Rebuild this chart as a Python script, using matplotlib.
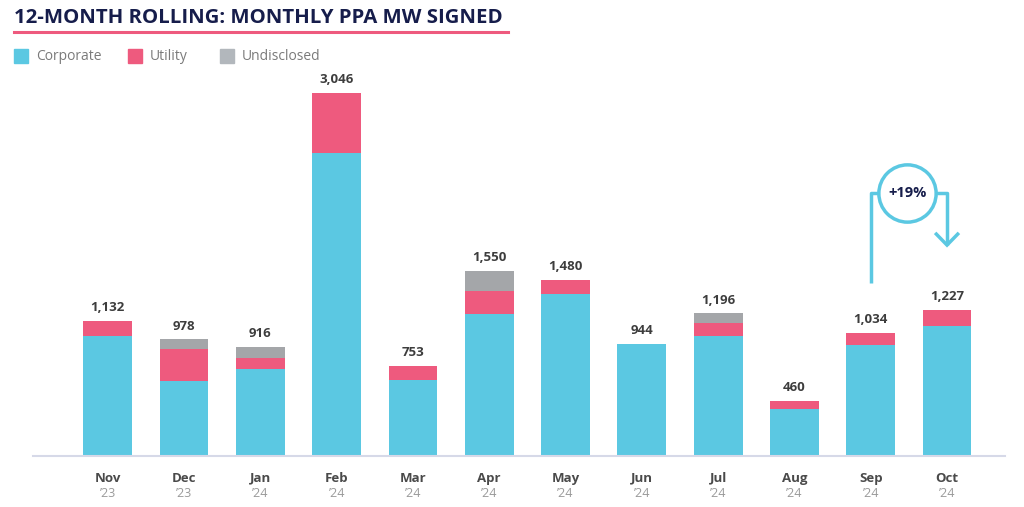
import matplotlib.pyplot as plt
from matplotlib.patches import Rectangle
import numpy as np

plt.rcParams['font.family'] = ['Open Sans', 'DejaVu Sans']

months = ["Nov", "Dec", "Jan", "Feb", "Mar", "Apr", "May", "Jun", "Jul", "Aug", "Sep", "Oct"]
years = ["’23", "’23", "’24", "’24", "’24", "’24", "’24", "’24", "’24", "’24", "’24", "’24"]
totals = [1132, 978, 916, 3046, 753, 1550, 1480, 944, 1196, 460, 1034, 1227]
utility = [128, 263, 87, 503, 112, 195, 120, 0, 108, 67, 99, 139]
undisclosed = [0, 83, 95, 0, 0, 165, 0, 0, 79, 0, 0, 0]
corporate = [t - u - d for t, u, d in zip(totals, utility, undisclosed)]
legend_names = ["Corporate", "Utility", "Undisclosed"]

CORP = "#5bc8e2"
UTIL = "#ee5a7e"
UNDIS = "#a4a6a9"
NAVY = "#161d4b"

W, H = 1024, 507
fig = plt.figure(figsize=(W / 100, H / 100), dpi=100)
ax = fig.add_axes([33 / W, 51 / H, 972 / W, 396 / H])

x = np.arange(len(months))
w = 0.64
ax.bar(x, corporate, w, color=CORP, zorder=2)
ax.bar(x, utility, w, bottom=corporate, color=UTIL, zorder=2)
ax.bar(x, undisclosed, w, bottom=np.array(corporate) + np.array(utility), color=UNDIS, zorder=2)

for xi, t in zip(x, totals):
    ax.annotate(f"{t:,}", (xi, t), xytext=(0, 5), textcoords="offset points",
                ha="center", va="bottom", fontsize=9.5, fontweight="bold", color="#3d3d3d")

for xi, m, yr in zip(x, months, years):
    ax.annotate(m, (xi, 0), xycoords=("data", "axes fraction"), xytext=(0, -16),
                textcoords="offset points", ha="center", va="center",
                fontsize=9.5, fontweight="bold", color="#4a4a4a")
    ax.annotate(yr, (xi, 0), xycoords=("data", "axes fraction"), xytext=(0, -27),
                textcoords="offset points", ha="center", va="center",
                fontsize=9, color="#9a9a9a")

ax.set_xlim(-0.98, 11.76)
ax.set_ylim(0, 3323)
for s in ["top", "right", "left"]:
    ax.spines[s].set_visible(False)
ax.spines["bottom"].set_color("#d6d9e8")
ax.spines["bottom"].set_linewidth(1.5)
ax.set_xticks([])
ax.set_yticks([])

# +19% bracket between Sep and Oct
i_sep, i_oct = 10, 11
y_top = 2211
tip = totals[i_oct] + 543
ax.plot([i_sep, i_sep, i_oct, i_oct], [totals[i_sep] + 418, y_top, y_top, tip],
        color=CORP, lw=2.5, zorder=3, solid_capstyle="butt")
ax.plot([i_oct - 0.14, i_oct, i_oct + 0.14], [tip + 92, tip, tip + 92],
        color=CORP, lw=2.5, zorder=3, solid_joinstyle="miter")
cx = (i_sep + i_oct) / 2 - 0.02
ax.scatter([cx], [y_top], s=1700, facecolor="white", edgecolor=CORP, linewidth=2.5, zorder=4)
ax.text(cx, y_top, "+19%", ha="center", va="center", fontsize=10.5,
        fontweight="bold", color=NAVY, zorder=5)

fig.text(14 / W, 1 - 18 / H, "12-MONTH ROLLING: MONTHLY PPA MW SIGNED", ha="left", va="center",
         fontsize=14.7, fontweight="bold", color=NAVY)
fig.add_artist(plt.Line2D([14 / W, 508 / W], [1 - 32 / H, 1 - 32 / H], color=UTIL, lw=2.2))

# legend drawn by hand to match spacing
for name, col, lx in zip(legend_names, [CORP, UTIL, "#b2b7bc"], [14, 128, 220]):
    fig.add_artist(Rectangle((lx / W, 1 - 63 / H), 14 / W, 14 / H, color=col,
                             transform=fig.transFigure))
    fig.text((lx + 22) / W, 1 - 56 / H, name, ha="left", va="center",
             fontsize=10, color="#7a7a7a")

fig.savefig("out.png", dpi=100)
